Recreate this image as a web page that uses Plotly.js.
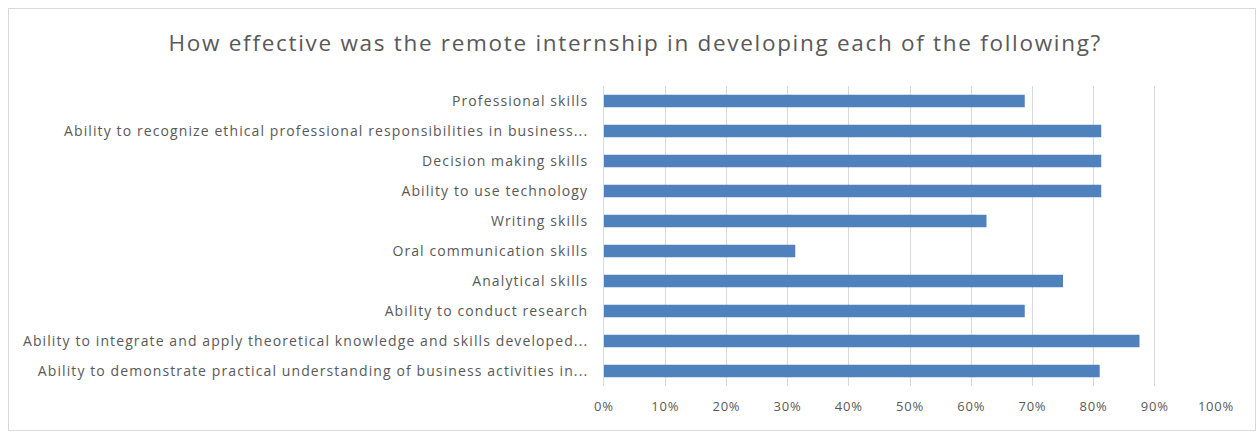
<!DOCTYPE html>
<html>
<head>
<meta charset="utf-8">
<script src="https://cdn.plot.ly/plotly-3.0.1.min.js"></script>
<style>
html,body{margin:0;padding:0;background:#fff;}
#frame{position:absolute;left:8px;top:8px;width:1248px;height:423px;border:1px solid #d9d9d9;box-sizing:border-box;}
#chart{position:absolute;left:0;top:0;width:1258px;height:433px;}
#chart .ytick text{letter-spacing:1.1px;}
#chart .xtick text{letter-spacing:0.8px;}
#chart .gtitle{letter-spacing:1.7px;}
</style>
</head>
<body>
<div id="frame"></div>
<div id="chart"></div>
<script>
var categories = [
  "Professional skills",
  "Ability to recognize ethical professional responsibilities in business...",
  "Decision making skills",
  "Ability to use technology",
  "Writing skills",
  "Oral communication skills",
  "Analytical skills",
  "Ability to conduct research",
  "Ability to integrate and apply theoretical knowledge and skills developed...",
  "Ability to demonstrate practical understanding of business activities in..."
];
var values = [0.6875, 0.8125, 0.8125, 0.8125, 0.625, 0.3125, 0.75, 0.6875, 0.875, 0.81];
var tickVals = [0,0.1,0.2,0.3,0.4,0.5,0.6,0.7,0.8,0.9,1.0];
var tickText = ["0%","10%","20%","30%","40%","50%","60%","70%","80%","90%","100%"];
var titleText = "How effective was the remote internship in developing each of the following?";

var fontFam = "'Open Sans', Lato, sans-serif";
var trace = {
  type: "bar",
  orientation: "h",
  x: values,
  y: categories,
  marker: {color: "#4f81bd"},
  hoverinfo: "x+y"
};
var layout = {
  width: 1258,
  height: 433,
  margin: {l: 604, r: 42, t: 86, b: 47},
  paper_bgcolor: "rgba(0,0,0,0)",
  plot_bgcolor: "rgba(0,0,0,0)",
  font: {family: fontFam, color: "#595959", size: 13},
  title: {text: titleText, x: 0.505, xanchor: "center", y: 0.9, yanchor: "middle",
          font: {size: 22.5, color: "#595959", family: fontFam}},
  bargap: 0.58,
  showlegend: false,
  xaxis: {
    range: [0, 1.0],
    tickvals: tickVals,
    ticktext: tickText,
    showgrid: true,
    gridcolor: "#d9d9d9",
    gridwidth: 1,
    zeroline: false,
    showline: false,
    ticks: "outside",
    ticklen: 8,
    tickcolor: "rgba(0,0,0,0)",
    tickfont: {size: 13, color: "#595959"},
    fixedrange: true
  },
  yaxis: {
    categoryorder: "array",
    categoryarray: categories,
    autorange: "reversed",
    showgrid: false,
    zeroline: false,
    showline: true,
    linecolor: "#d9d9d9",
    linewidth: 1,
    ticks: "outside",
    ticklen: 12,
    tickcolor: "rgba(0,0,0,0)",
    tickfont: {size: 14, color: "#595959"},
    fixedrange: true
  }
};
Plotly.newPlot("chart", [trace], layout, {displayModeBar: false, staticPlot: true});
</script>
</body>
</html>
